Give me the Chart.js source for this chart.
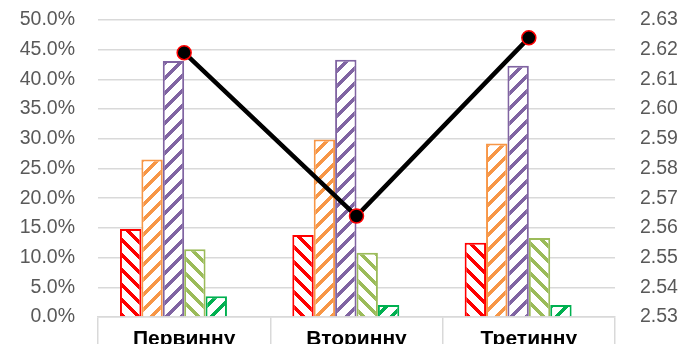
<!DOCTYPE html>
<html>
<head>
<meta charset="utf-8">
<script src="https://cdn.jsdelivr.net/npm/chart.js@4/dist/chart.umd.min.js"></script>
<style>
  html, body { margin: 0; padding: 0; background: #fff; overflow: hidden; }
  #wrap { width: 686px; height: 372px; }
</style>
</head>
<body>
<div id="wrap"><canvas id="chart"></canvas></div>
<script>
const categories = ['Первинну', 'Вторинну', 'Третинну'];
const redValues = [14.8, 13.8, 12.5];
const orangeValues = [26.5, 29.9, 29.2];
const purpleValues = [43.1, 43.3, 42.3];
const lightGreenValues = [11.4, 10.8, 13.3];
const darkGreenValues = [3.5, 2.0, 2.0];
const emptyValues = [null, null, null];
const lineValues = [2.619, 2.564, 2.624];

const ctx = document.getElementById('chart');
const g2d = ctx.getContext('2d');

// diagonal hatch tile, like Excel's wide diagonal fill
function hatch(color, dir, w) {
    const n = 15;
    const c = document.createElement('canvas');
    c.width = n; c.height = n;
    const g = c.getContext('2d');
    g.fillStyle = '#fff';
    g.fillRect(0, 0, n, n);
    g.fillStyle = color;
    for (let y = 0; y < n; y++) {
        for (let x = 0; x < n; x++) {
            const k = dir === '/' ? (x + y) % n : ((x - y) % n + n) % n;
            if (k < w) g.fillRect(x, y, 1, 1);
        }
    }
    return g2d.createPattern(c, 'repeat');
}

const gridColor = '#d9d9d9';

function bar(label, data, color, dir) {
    return {
        type: 'bar',
        label: label,
        data: data,
        backgroundColor: hatch(color, dir, 5),
        borderColor: color,
        borderWidth: 2,
        yAxisID: 'y',
        order: 1
    };
}

// keep the plot top where the reference has it (tick padding would push it down)
function fixSide(width) {
    return s => { s.width = width; s.paddingTop = 10; };
}

new Chart(ctx, {
    data: {
        labels: categories,
        datasets: [
            {
                type: 'line',
                label: 'avg',
                data: lineValues,
                borderColor: '#000',
                borderWidth: 4.5,
                pointRadius: 7,
                pointBorderWidth: 1.5,
                pointBackgroundColor: '#000',
                pointBorderColor: '#ff0000',
                tension: 0,
                yAxisID: 'y2',
                order: 0
            },
            bar('s1', redValues, '#ff0000', '\\'),
            bar('s2', orangeValues, '#f79646', '/'),
            bar('s3', purpleValues, '#8064a2', '/'),
            bar('s4', lightGreenValues, '#9bbb59', '\\'),
            bar('s5', darkGreenValues, '#00b050', '/'),
            { type: 'bar', label: 's6', data: emptyValues, yAxisID: 'y', order: 1 }
        ]
    },
    options: {
        responsive: true,
        maintainAspectRatio: false,
        animation: false,
        datasets: { bar: { categoryPercentage: 0.745, barPercentage: 1 } },
        layout: { padding: { top: 20, left: 0, right: 0, bottom: 0 } },
        plugins: { legend: { display: false }, tooltip: { enabled: false } },
        scales: {
            x: {
                grid: { offset: true, drawOnChartArea: false, drawTicks: true, tickLength: 30, color: gridColor, lineWidth: 1.5 },
                border: { display: true, color: gridColor, width: 1.5 },
                ticks: { padding: -20, color: '#000', font: { family: 'Liberation Sans', size: 21, weight: 'bold' } },
                afterFit: s => { s.height = 55; }
            },
            y: {
                position: 'left',
                min: 0, max: 50,
                ticks: {
                    stepSize: 5, padding: 23, color: '#595959',
                    font: { family: 'Liberation Sans', size: 19.5 },
                    callback: v => v.toFixed(1) + '%'
                },
                grid: { color: gridColor, lineWidth: 1.5, drawTicks: false },
                border: { display: false },
                afterFit: fixSide(98)
            },
            y2: {
                position: 'right',
                min: 2.53, max: 2.63,
                ticks: {
                    stepSize: 0.01, padding: 25, color: '#595959',
                    font: { family: 'Liberation Sans', size: 19.5 },
                    callback: v => v.toFixed(2)
                },
                grid: { drawOnChartArea: false, drawTicks: false },
                border: { display: false },
                afterFit: fixSide(71)
            }
        }
    }
});
</script>
</body>
</html>
